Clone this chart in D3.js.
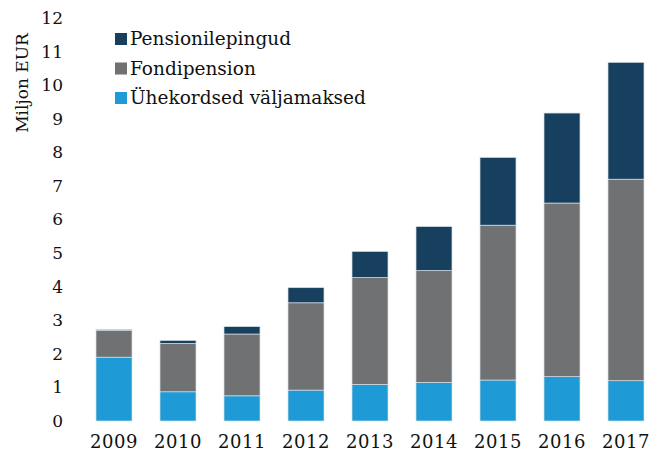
<!DOCTYPE html>
<html>
<head>
<meta charset="utf-8">
<script src="https://cdn.jsdelivr.net/npm/d3@7"></script>
<style>
  body { margin: 0; background: #fff; }
  svg text { font-family: "DejaVu Serif", "Liberation Serif", serif; fill: #111; }
</style>
</head>
<body>
<div id="okvir"></div>
<script>
const aastad = ["2009", "2010", "2011", "2012", "2013", "2014", "2015", "2016", "2017"]
const yhekordsed = [1.90, 0.87, 0.75, 0.92, 1.09, 1.15, 1.22, 1.32, 1.20]
const fondipension = [0.80, 1.44, 1.84, 2.60, 3.18, 3.33, 4.61, 5.17, 6.00]
const pensionilepingud = [0.02, 0.09, 0.22, 0.45, 0.78, 1.31, 2.02, 2.68, 3.48]
const yTicks = [0, 1, 2, 3, 4, 5, 6, 7, 8, 9, 10, 11, 12]
const seeriad = ["Ühekordsed väljamaksed", "Fondipension", "Pensionilepingud"]
const legendiJarjekord = ["Pensionilepingud", "Fondipension", "Ühekordsed väljamaksed"]
const varvid = {
  "Ühekordsed väljamaksed": "#1e9ad6",
  "Fondipension": "#707173",
  "Pensionilepingud": "#17405f"
}

function joonista() {
  const dim = { laius: 664, korgus: 457 }

  const tabel = aastad.map((a, i) => ({
    aasta: a,
    "Ühekordsed väljamaksed": yhekordsed[i],
    "Fondipension": fondipension[i],
    "Pensionilepingud": pensionilepingud[i]
  }))
  const virn = d3.stack().keys(seeriad)(tabel)

  const svg = d3.select("#okvir").append("svg")
    .attr("width", dim.laius)
    .attr("height", dim.korgus)

  const xSkala = d3.scaleBand()
    .domain(aastad)
    .range([82, 658])
    .paddingInner(0.4375)
    .paddingOuter(0.21875)

  const ySkala = d3.scaleLinear()
    .domain([0, 12])
    .range([421, 18])

  // tulbad
  svg.append("g").selectAll("g")
    .data(virn)
    .join("g")
      .attr("fill", d => varvid[d.key])
    .selectAll("rect")
    .data(d => d)
    .join("rect")
      .attr("x", d => xSkala(d.data.aasta))
      .attr("y", d => ySkala(d[1]))
      .attr("width", xSkala.bandwidth())
      .attr("height", d => ySkala(d[0]) - ySkala(d[1]))
      .attr("stroke", "#d6dee6")
      .attr("stroke-width", 0.7)

  // y telg
  const yOs = svg.append("g")
    .attr("transform", "translate(63,0)")
    .call(d3.axisLeft(ySkala).tickValues(yTicks).tickSize(0).tickPadding(0))
  yOs.select(".domain").remove()
  yOs.selectAll("text")
    .style("font-size", "17px")
    .attr("dy", "0.32em")

  // x telg
  const xOs = svg.append("g")
    .attr("transform", "translate(0,421)")
    .call(d3.axisBottom(xSkala).tickSize(0).tickPadding(0))
  xOs.select(".domain").remove()
  xOs.selectAll("text")
    .style("font-size", "18px")
    .style("letter-spacing", "0.6px")
    .attr("y", 21)
    .attr("dy", "0.32em")

  svg.append("text")
    .attr("transform", "translate(28,83) rotate(-90)")
    .attr("text-anchor", "middle")
    .style("font-size", "17px")
    .text("Miljon EUR")

  // legend
  const legend = svg.append("g").attr("transform", "translate(115,33)")
  const rida = legend.selectAll("g")
    .data(legendiJarjekord)
    .join("g")
      .attr("transform", (d, i) => `translate(0,${i * 29.5})`)
  rida.append("rect")
    .attr("width", 12)
    .attr("height", 12)
    .attr("fill", d => varvid[d])
  rida.append("text")
    .attr("x", 15)
    .attr("y", 6)
    .attr("dy", "0.35em")
    .style("font-size", "18.5px")
    .text(d => d)
}
joonista()
</script>
</body>
</html>
